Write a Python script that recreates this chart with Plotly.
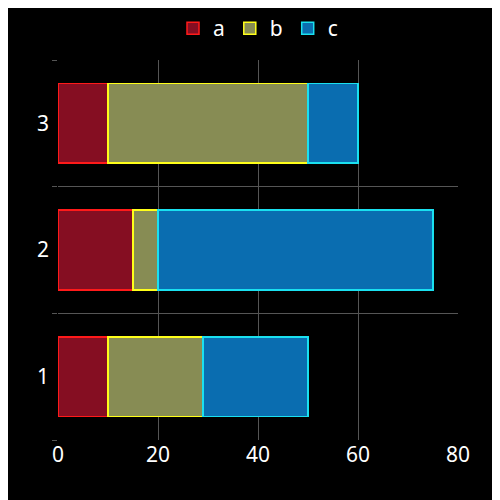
import plotly.graph_objects as go

categories = [1, 2, 3]
a_values = [10, 15, 10]
b_values = [19, 5, 40]
c_values = [21, 55, 10]

series = [
    ("a", a_values, "#850e22", "#ff1a1a"),
    ("b", b_values, "#878c54", "#ffff1a"),
    ("c", c_values, "#0a6db0", "#1ae0f0"),
]

fig = go.Figure()
for name, vals, fill, edge in series:
    fig.add_trace(go.Bar(
        name=name, x=vals, y=categories, orientation="h",
        marker=dict(color=fill, line=dict(color=edge, width=1.5)),
        width=0.63,
    ))

fig.update_layout(
    barmode="stack",
    width=500, height=500,
    paper_bgcolor="black", plot_bgcolor="black",
    font=dict(family="Noto Sans", color="white", size=21),
    margin=dict(l=50, r=50, t=52, b=68),
    legend=dict(orientation="h", x=0.5, xanchor="center", y=1.0, yanchor="top",
                yref="container", font=dict(size=21), traceorder="normal"),
)
fig.update_xaxes(range=[0, 80], tickvals=[0, 20, 40, 60, 80], showgrid=True,
                 gridcolor="#555", zeroline=False, ticks="", ticklen=0)
fig.update_yaxes(range=[0.5, 3.5], tickvals=[1, 2, 3], showgrid=False, zeroline=False,
                 ticklabelstandoff=8,
                 minor=dict(tickvals=[0.5, 1.5, 2.5, 3.5], showgrid=True,
                            gridcolor="#555", ticks="outside", ticklen=5, tickcolor="#555"))

fig.write_html("out.html")
